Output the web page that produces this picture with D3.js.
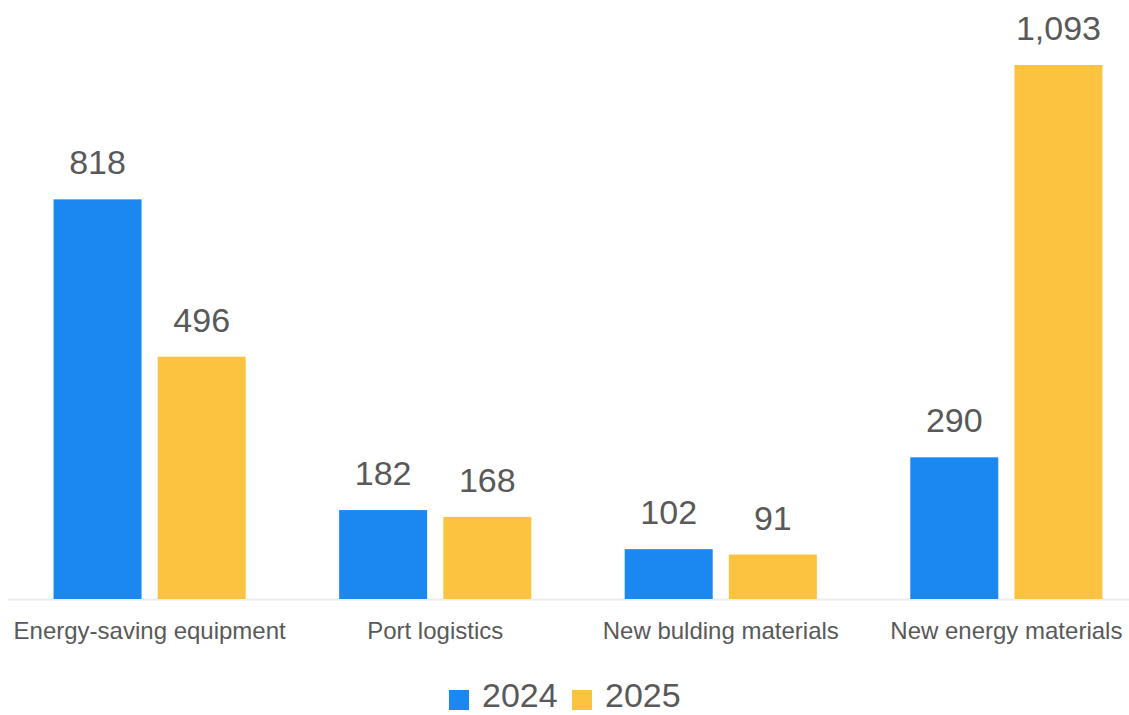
<!DOCTYPE html>
<html>
<head>
<meta charset="utf-8">
<script src="https://cdn.jsdelivr.net/npm/d3@7"></script>
<style>
  body { margin: 0; background: #fff; }
  text { font-family: "Liberation Sans", Arial, sans-serif; fill: #595959; }
</style>
</head>
<body>
<div id="chart"></div>
<script>
const categories = ['Energy-saving equipment', 'Port logistics', 'New bulding materials', 'New energy materials'];
const seriesNames = ['2024', '2025'];
const values2024 = [818, 182, 102, 290];
const values2025 = [496, 168, 91, 1093];
const colors = ['#1a88f0', '#fcc340'];

const width = 1129, height = 715;
const baseline = 599;

const svg = d3.select('#chart').append('svg')
  .attr('width', width)
  .attr('height', height);

const rows = categories.map((c, i) => ({ category: c, values: [values2024[i], values2025[i]] }));

const x0 = d3.scaleBand()
  .domain(categories)
  .range([7, 1149])
  .paddingInner(0.327)
  .paddingOuter(0.163);

const x1 = d3.scaleBand()
  .domain(seriesNames)
  .range([0, x0.bandwidth()])
  .paddingInner(0.155);

const y = d3.scaleLinear()
  .domain([0, 1093])
  .range([baseline, 65]);

// axis line
svg.append('line')
  .attr('x1', 8).attr('x2', width)
  .attr('y1', baseline + 0.5).attr('y2', baseline + 0.5)
  .attr('stroke', '#ededed')
  .attr('stroke-width', 2);

const groups = svg.selectAll('g.group')
  .data(rows)
  .enter()
  .append('g')
  .attr('class', 'group')
  .attr('transform', d => `translate(${x0(d.category)},0)`);

groups.selectAll('rect')
  .data(d => d.values.map((v, j) => ({ key: seriesNames[j], value: v, j })))
  .enter()
  .append('rect')
  .attr('x', d => x1(d.key))
  .attr('y', d => y(d.value))
  .attr('width', x1.bandwidth())
  .attr('height', d => baseline - y(d.value))
  .attr('fill', d => colors[d.j]);

groups.selectAll('text.value')
  .data(d => d.values.map((v, j) => ({ key: seriesNames[j], value: v })))
  .enter()
  .append('text')
  .attr('class', 'value')
  .attr('x', d => x1(d.key) + x1.bandwidth() / 2)
  .attr('y', d => y(d.value) - 25)
  .attr('text-anchor', 'middle')
  .style('font-size', '34px')
  .text(d => d3.format(',')(d.value));

// category labels
svg.selectAll('text.cat')
  .data(categories)
  .enter()
  .append('text')
  .attr('class', 'cat')
  .attr('x', d => x0(d) + x0.bandwidth() / 2)
  .attr('y', 639)
  .attr('text-anchor', 'middle')
  .style('font-size', '24px')
  .text(d => d);

// legend
const legendX = [449, 572];
const legend = svg.selectAll('g.legend')
  .data(seriesNames)
  .enter()
  .append('g')
  .attr('class', 'legend')
  .attr('transform', (d, i) => `translate(${legendX[i]},0)`);

legend.append('rect')
  .attr('x', 0).attr('y', 690)
  .attr('width', 20).attr('height', 20)
  .attr('fill', (d, i) => colors[i]);

legend.append('text')
  .attr('x', 33)
  .attr('y', 707)
  .style('font-size', '34px')
  .text(d => d);
</script>
</body>
</html>
